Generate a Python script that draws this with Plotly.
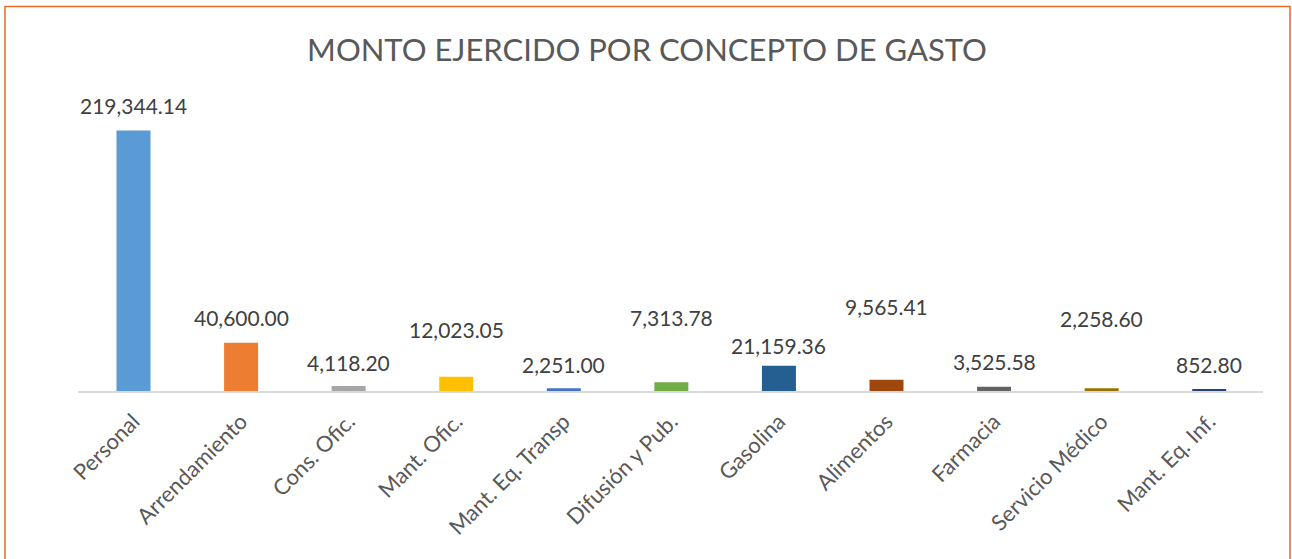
import plotly.graph_objects as go

categories = ["Personal", "Arrendamiento", "Cons. Ofic.", "Mant. Ofic.", "Mant. Eq. Transp",
              "Difusión y Pub.", "Gasolina", "Alimentos", "Farmacia", "Servicio Médico", "Mant. Eq. Inf."]
values = [219344.14, 40600.00, 4118.20, 12023.05, 2251.00, 7313.78, 21159.36, 9565.41, 3525.58, 2258.60, 852.80]
colors = ["#5B9BD5", "#ED7D31", "#A5A5A5", "#FFC000", "#4472C4", "#70AD47",
          "#255E91", "#9E480E", "#636363", "#997300", "#264478"]
title = "MONTO EJERCIDO POR CONCEPTO DE GASTO"

# label offset (pixels above bar top to label centre) - manual placement as in the source
label_shift = [25, 25, 24, 47, 24, 65, 20, 73, 25, 70, 25]

FONT = "Lato"

fig = go.Figure()
fig.add_trace(go.Bar(x=categories, y=values, marker=dict(color=colors, line=dict(width=0)),
                     hoverinfo="x+y"))

for c, v, s in zip(categories, values, label_shift):
    fig.add_annotation(x=c, y=v, xref="x", yref="y", text=f"{v:,.2f}", showarrow=False,
                       yanchor="middle", yshift=s,
                       font=dict(family=FONT, size=21, color="#404040"))

W, H = 1292, 559
ml, mr, mt, mb = 78, 29, 94, 168
pw, ph = W - ml - mr, H - mt - mb

def px(x):
    return (x - ml) / pw

def py(y):
    return (H - mb - y) / ph

fig.add_shape(type="rect", xref="paper", yref="paper",
              x0=px(5), x1=px(1290), y0=py(570), y1=py(6.5),
              line=dict(color="#E46C1F", width=1.5), fillcolor="rgba(0,0,0,0)", layer="below")

fig.update_layout(
    width=W, height=H,
    margin=dict(l=ml, r=mr, t=mt, b=mb),
    paper_bgcolor="white", plot_bgcolor="white",
    bargap=0.684,
    showlegend=False,
    title=dict(text=title, x=647 / W, xref="container", xanchor="center", y=1 - 50 / H, yanchor="middle",
               font=dict(family=FONT, size=31, color="#595959")),
    xaxis=dict(showgrid=False, showline=True, linecolor="#D9D9D9", linewidth=2, ticks="",
               tickangle=-45, tickfont=dict(family=FONT, size=22, color="#595959"),
               ticklabelstandoff=7, zeroline=False),
    yaxis=dict(range=[0, 250000], visible=False, showgrid=False, zeroline=False),
)

fig.write_html("out.html", config={"displayModeBar": False},
               post_script="document.body.style.margin='0px';")
